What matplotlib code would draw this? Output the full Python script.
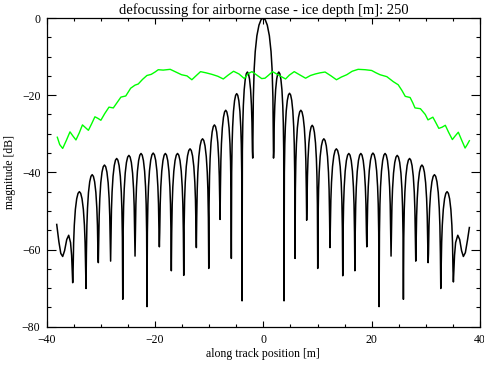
#!/usr/bin/env python3
# -*- coding: utf-8 -*-
"""
Defocussing plot for the airborne case (ice depth 250 m):
focused azimuth response (black) vs. the defocussed one (green), in dB.
"""

import numpy as np
import matplotlib
matplotlib.use("Agg")
import matplotlib.pyplot as plt

# --- black curve: the outer ends
leftEndX = [-38.15, -37.75, -37.4, -37.05, -36.7, -36.3, -35.94, -35.6, -35.4, -35.2]
leftEndDb = [-53.5, -58.0, -61.0, -61.8, -60.3, -57.4, -56.3, -58.2, -61.5, -68.6]
rightEndX = [35.09, 35.3, 35.5, 35.9, 36.25, 36.6, 36.93, 37.3, 37.7, 38.04]
rightEndDb = [-68.4, -61.5, -58.2, -56.3, -57.4, -60.3, -61.8, -60.8, -57.5, -54.3]

# black curve: nulls (position + depth) and the level of each lobe between them
nullX = [-35.2, -32.74, -30.47, -28.2, -25.96, -23.69, -21.48, -19.2, -16.99, -14.7,
         -12.37, -10.08, -7.99, -5.91, -3.93, -1.96, 1.88, 3.82, 5.85, 8.0,
         10.04, 12.3, 14.66, 16.9, 19.1, 21.37, 23.58, 25.86, 28.14, 30.42,
         32.76, 35.09]
nullDb = [-68.6, -70.1, -63.4, -63.0, -72.9, -61.7, -74.8, -59.3, -65.5, -66.7,
          -59.5, -64.9, -52.2, -62.3, -73.3, -36.3, -36.3, -73.3, -62.3, -52.4,
          -64.9, -59.5, -66.8, -65.5, -59.3, -74.8, -61.7, -72.9, -63.0, -63.4,
          -70.1, -68.4]
lobePeakDb = [-45.0, -40.6, -38.1, -36.4, -35.6, -35.1, -35.0, -35.1, -35.1, -33.9,
              -31.3, -27.7, -23.9, -19.6, -14.0, 0.0, -14.0, -19.5, -23.9, -27.8,
              -31.3, -33.9, -35.1, -35.1, -35.0, -35.1, -35.6, -36.4, -38.1, -40.6,
              -45.0]

# arch shape of one lobe (fraction across the lobe, dB below the lobe top)
lobeFrac = [0.03, 0.07, 0.12, 0.2, 0.3, 0.4, 0.5, 0.6, 0.7, 0.8, 0.88, 0.93, 0.97]
lobeDrop = [-20.5, -13.2, -8.7, -4.6, -1.84, -0.44, 0.0, -0.44, -1.84, -4.6, -8.7, -13.2, -20.5]

# --- green curve (defocussed)
greenX = [-38.04, -37.6, -37.05, -36.4, -35.7, -35.15, -34.6, -34.0, -33.4, -32.85,
          -32.3, -31.7, -31.1, -30.55, -30.0, -29.3, -28.5, -27.7, -27.0, -26.3,
          -25.4, -24.5, -23.7, -23.1, -22.3, -21.5, -20.7, -20.0, -19.4, -18.5,
          -17.2, -16.3, -15.1, -14.1, -13.2, -12.6, -11.6, -10.6, -9.5, -8.4,
          -7.4, -6.5, -5.5, -4.5, -3.5, -2.8, -2.1, -1.1, -0.3, 0.3,
          0.9, 1.7, 2.7, 4.1, 4.8, 5.7, 6.8, 7.8, 8.7, 9.6,
          10.5, 11.4, 12.5, 13.5, 14.4, 15.4, 16.4, 17.5, 18.8, 20.0,
          20.8, 21.55, 22.8, 24.0, 24.9, 25.6, 26.2, 27.1, 27.6, 28.0,
          29.0, 29.9, 30.4, 31.3, 31.8, 32.4, 33.0, 33.6, 34.2, 34.9,
          35.4, 36.0, 36.6, 37.25, 37.65, 38.04]
greenDb = [-30.9, -32.8, -33.8, -31.8, -29.5, -30.6, -31.6, -29.8, -27.7, -28.4,
           -29.1, -27.4, -25.6, -26.0, -26.5, -24.8, -23.1, -23.3, -21.9, -20.5,
           -20.2, -18.2, -17.4, -17.1, -15.9, -14.9, -14.6, -14.0, -13.4, -13.5,
           -13.3, -13.9, -14.7, -15.0, -16.0, -15.2, -13.9, -14.2, -14.6, -15.1,
           -15.8, -14.8, -13.8, -14.5, -15.7, -14.4, -13.9, -14.9, -15.7, -15.6,
           -14.9, -13.9, -14.7, -15.8, -14.8, -13.9, -14.8, -15.6, -14.9, -14.5,
           -14.2, -14.0, -15.0, -16.0, -15.3, -14.7, -13.8, -13.3, -13.4, -13.6,
           -14.2, -14.7, -15.2, -16.5, -17.3, -18.8, -20.3, -20.6, -22.0, -23.3,
           -23.5, -25.0, -26.4, -25.7, -27.0, -28.6, -28.3, -27.8, -29.6, -31.5,
           -30.6, -29.6, -31.6, -33.7, -32.8, -31.8]

titleText = "defocussing for airborne case - ice depth [m]: 250"


# stitch the black response together: left end, the lobes, right end
def buildFocusedCurve():
    xs = list(leftEndX)
    ys = list(leftEndDb)
    for i in range(len(lobePeakDb)):
        x0, x1 = nullX[i], nullX[i + 1]
        for frac, drop in zip(lobeFrac, lobeDrop):
            xs.append(x0 + frac * (x1 - x0))
            ys.append(lobePeakDb[i] + drop)
        xs.append(x1)
        ys.append(nullDb[i + 1])
    xs += rightEndX[1:]
    ys += rightEndDb[1:]
    return np.array(xs), np.array(ys)


def plotDefocussing():
    plt.rcParams['font.family'] = ['Liberation Serif', 'DejaVu Serif']
    fig = plt.figure(figsize=(4.84, 3.69), dpi=100)
    ax = fig.add_axes([0.0965, 0.1146, 0.8952, 0.8366])

    bx, by = buildFocusedCurve()
    ax.plot(bx, by, color='black', lw=1.1, solid_joinstyle='round')
    ax.plot(greenX, greenDb, color='#00ff00', lw=1.0, solid_joinstyle='round')

    ax.set_xlim(-40, 40)
    ax.set_ylim(-80, 0)
    ax.set_xticks([-40, -20, 0, 20, 40])
    ax.set_xticks(np.arange(-40, 41, 5), minor=True)
    ax.set_yticks([-80, -60, -40, -20, 0])
    ax.set_yticks(np.arange(-80, 1, 5), minor=True)

    # IDL look: inward ticks on all four sides, labels only left/bottom
    ax.tick_params(axis='both', which='both', direction='in', top=True, right=True,
                   width=0.8, labelsize=8.5, colors='black')
    ax.tick_params(axis='x', which='major', length=4.4, pad=5)
    ax.tick_params(axis='x', which='minor', length=2.2)
    ax.tick_params(axis='y', which='major', length=6.3, pad=4.5)
    ax.tick_params(axis='y', which='minor', length=3.1)
    for side in ax.spines.values():
        side.set_linewidth(0.9)

    ax.set_xlabel('along track position [m]', fontsize=8.5, labelpad=2)
    ax.set_ylabel('magnitude [dB]', fontsize=8.5, labelpad=4)
    ax.set_title(titleText, fontsize=10.5, pad=3)

    fig.savefig('out.png', dpi=100)


if __name__ == "__main__":
    plotDefocussing()
